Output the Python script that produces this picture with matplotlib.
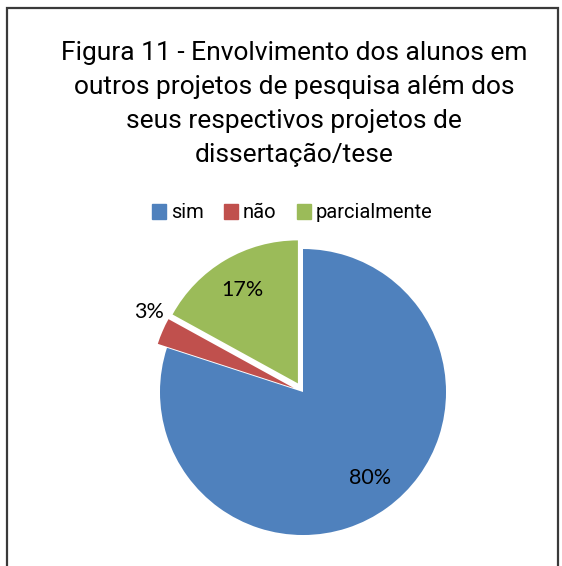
import numpy as np
import matplotlib.pyplot as plt
from matplotlib.patches import Rectangle

labels = ["sim", "não", "parcialmente"]
values = [80, 3, 17]
colors = ["#4F81BD", "#C0504D", "#9BBB59"]
explode = [0, 0.07, 0.07]
title = "Figura 11 - Envolvimento dos alunos em\noutros projetos de pesquisa além dos\nseus respectivos projetos de\ndissertação/tese"

narrow = ["Roboto", "DejaVu Sans"]
label_font = ["Lato", "DejaVu Sans"]

fig = plt.figure(figsize=(5.62, 5.66), dpi=100)
fig.patch.set_facecolor("white")

# chart border (bottom edge is cropped off in the original)
fig.add_artist(Rectangle((7 / 562, -0.05), 551 / 562, 1.05 - 8 / 566,
                         transform=fig.transFigure, fill=False,
                         edgecolor="#3a3a3a", linewidth=1.6))

fig.text(0.523, 1 - 104 / 566, title, ha="center", va="center",
         fontsize=19, family=narrow, linespacing=1.52, color="black")

ax = fig.add_axes([0.2338, 0.0042, 0.6107, 0.6064])
wedges, _ = ax.pie(values, colors=colors, explode=explode, startangle=90,
                   counterclock=False, radius=1)
ax.set_xlim(-1.2, 1.2)
ax.set_ylim(-1.2, 1.2)
ax.set_aspect("equal")
ax.axis("off")

# data labels placed along each wedge's middle angle
dists = [0.76, 1.14, 0.76]
shift = [2, -4, 0]
for w, v, e, d, s in zip(wedges, values, explode, dists, shift):
    mid = np.deg2rad((w.theta1 + w.theta2) / 2 + s)
    r = e + d
    ax.text(r * np.cos(mid), r * np.sin(mid), f"{v}%", ha="center", va="center",
            fontsize=15.5, family=label_font, color="black")

handles = [Rectangle((0, 0), 1, 1, color=c) for c in colors]
fig.legend(handles, labels, loc="center", bbox_to_anchor=(0.52, 1 - 213 / 566),
           ncol=3, frameon=False, handlelength=0.7, handleheight=0.7,
           handletextpad=0.25, columnspacing=1.0,
           prop={"family": narrow, "size": 14.5})

fig.savefig("out.png", dpi=100)
